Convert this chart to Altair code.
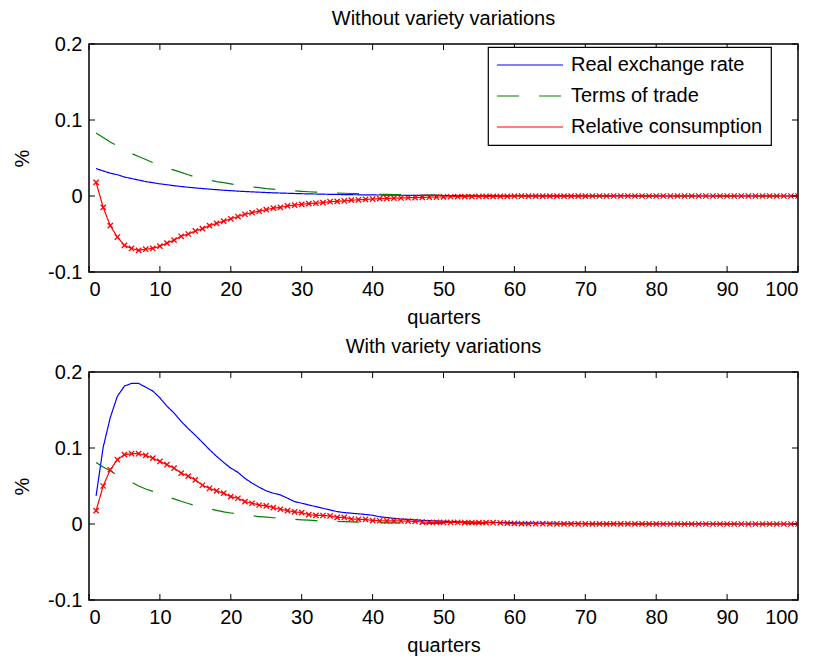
import altair as alt
import pandas as pd

FONT = "Liberation Sans"

quarters = list(range(1, 101))
series_names = ["Real exchange rate", "Terms of trade", "Relative consumption"]
series_colors = ["#0000FF", "#008000", "#FF0000"]
x_ticks = [0, 10, 20, 30, 40, 50, 60, 70, 80, 90, 100]
y_ticks = [-0.1, 0, 0.1, 0.2]

# ---- Panel 1: Without variety variations ----
rer1 = [0.036, 0.033, 0.030, 0.028, 0.025, 0.023, 0.021, 0.019, 0.0175, 0.016,
        0.0148, 0.0136, 0.0125, 0.0115, 0.0106, 0.0098, 0.009, 0.0083, 0.0076, 0.007,
        0.0064, 0.0059, 0.0054, 0.005, 0.0046, 0.0042, 0.0039, 0.0036, 0.0033, 0.003,
        0.0028, 0.0026, 0.0024, 0.0022, 0.002, 0.0019, 0.0017, 0.0016, 0.0015, 0.0014,
        0.0013, 0.0012, 0.0011, 0.001, 0.0009, 0.0009, 0.0008, 0.0007, 0.0007, 0.0006,
        0.0006, 0.0005, 0.0005, 0.0005, 0.0004, 0.0004, 0.0004, 0.0003, 0.0003, 0.0003,
        0.0003, 0.0002, 0.0002, 0.0002, 0.0002, 0.0002, 0.0001, 0.0001, 0.0001, 0.0001,
        0.0001, 0.0001, 0.0001, 0.0001, 0.0001, 0.0001, 0.0001, 0.0001, 0.0001, 0.0001,
        0, 0, 0, 0, 0, 0, 0, 0, 0, 0,
        0, 0, 0, 0, 0, 0, 0, 0, 0, 0]
tot1 = [0.083, 0.077, 0.071, 0.066, 0.061, 0.056, 0.052, 0.048, 0.044, 0.041,
        0.037, 0.034, 0.031, 0.028, 0.025, 0.023, 0.021, 0.019, 0.0175, 0.016,
        0.0145, 0.013, 0.012, 0.011, 0.0098, 0.009, 0.0082, 0.0075, 0.0068, 0.0062,
        0.0056, 0.0051, 0.0047, 0.0043, 0.0039, 0.0036, 0.0033, 0.003, 0.0027, 0.0025,
        0.0023, 0.0021, 0.0019, 0.0017, 0.0016, 0.0014, 0.0013, 0.0012, 0.0011, 0.001,
        0.0009, 0.0008, 0.0008, 0.0007, 0.0006, 0.0006, 0.0005, 0.0005, 0.0004, 0.0004,
        0.0004, 0.0003, 0.0003, 0.0003, 0.0003, 0.0002, 0.0002, 0.0002, 0.0002, 0.0002,
        0.0001, 0.0001, 0.0001, 0.0001, 0.0001, 0.0001, 0.0001, 0.0001, 0.0001, 0.0001,
        0, 0, 0, 0, 0, 0, 0, 0, 0, 0,
        0, 0, 0, 0, 0, 0, 0, 0, 0, 0]
rc1 = [0.018, -0.015, -0.039, -0.054, -0.065, -0.069, -0.0715, -0.070, -0.069, -0.066,
       -0.062, -0.058, -0.053, -0.050, -0.046, -0.043, -0.039, -0.036, -0.033, -0.030,
       -0.027, -0.024, -0.022, -0.020, -0.018, -0.016, -0.015, -0.013, -0.012, -0.011,
       -0.010, -0.0095, -0.0087, -0.0075, -0.007, -0.0065, -0.0055, -0.005, -0.0045, -0.004,
       -0.0035, -0.0032, -0.0029, -0.0026, -0.0023, -0.002, -0.0018, -0.0016, -0.0014, -0.0012,
       -0.001, -0.0009, -0.0008, -0.0007, -0.0006, -0.0005, -0.0005, -0.0004, -0.0004, -0.0003,
       -0.0003, -0.0003, -0.0002, -0.0002, -0.0002, -0.0002, -0.0001, -0.0001, -0.0001, -0.0001,
       0, 0, 0, 0, 0, 0, 0, 0, 0, 0,
       0, 0, 0, 0, 0, 0, 0, 0, 0, 0,
       0, 0, 0, 0, 0, 0, 0, 0, 0, 0]

# ---- Panel 2: With variety variations ----
rer2 = [0.037, 0.101, 0.140, 0.168, 0.1815, 0.185, 0.185, 0.180, 0.175, 0.166,
        0.155, 0.146, 0.135, 0.1255, 0.1167, 0.1074, 0.0978, 0.089, 0.081, 0.0735,
        0.068, 0.060, 0.0537, 0.0484, 0.0436, 0.0405, 0.0383, 0.0339, 0.0295, 0.0273,
        0.025, 0.0229, 0.0207, 0.0185, 0.0163, 0.015, 0.0142, 0.0134, 0.0125, 0.0115,
        0.0095, 0.0085, 0.0075, 0.0065, 0.006, 0.0054, 0.0048, 0.0044, 0.004, 0.0036,
        0.0033, 0.003, 0.0028, 0.0026, 0.0024, 0.0022, 0.002, 0.0019, 0.0018, 0.0017,
        0.0015, 0.0014, 0.0013, 0.0012, 0.0011, 0.001, 0.0009, 0.0008, 0.0007, 0.0006,
        0.0005, 0.0005, 0.0004, 0.0004, 0.0003, 0.0003, 0.0003, 0.0002, 0.0002, 0.0002,
        0.0002, 0.0001, 0.0001, 0.0001, 0.0001, 0.0001, 0.0001, 0.0001, 0.0001, 0.0001,
        0, 0, 0, 0, 0, 0, 0, 0, 0, 0]
tot2 = [0.081, 0.075, 0.070, 0.064, 0.059, 0.055, 0.050, 0.046, 0.043, 0.039,
        0.036, 0.033, 0.030, 0.027, 0.024, 0.022, 0.020, 0.018, 0.016, 0.0145,
        0.013, 0.012, 0.0108, 0.0098, 0.009, 0.0082, 0.0075, 0.0068, 0.0061, 0.0055,
        0.005, 0.0045, 0.0041, 0.0037, 0.0033, 0.003, 0.0027, 0.0024, 0.0022, 0.002,
        0.0018, 0.0016, 0.0015, 0.0013, 0.0012, 0.0011, 0.001, 0.0009, 0.0008, 0.0007,
        0.0007, 0.0006, 0.0005, 0.0005, 0.0004, 0.0004, 0.0004, 0.0003, 0.0003, 0.0003,
        0.0002, 0.0002, 0.0002, 0.0002, 0.0002, 0.0001, 0.0001, 0.0001, 0.0001, 0.0001,
        0, 0, 0, 0, 0, 0, 0, 0, 0, 0,
        0, 0, 0, 0, 0, 0, 0, 0, 0, 0,
        0, 0, 0, 0, 0, 0, 0, 0, 0, 0]
rc2 = [0.0176, 0.050, 0.0714, 0.0846, 0.0912, 0.0925, 0.0925, 0.0903, 0.0867, 0.0823,
       0.078, 0.0735, 0.067, 0.063, 0.058, 0.051, 0.047, 0.0436, 0.0405, 0.036,
       0.0339, 0.0295, 0.0273, 0.025, 0.0238, 0.0216, 0.0194, 0.0176, 0.0159, 0.015,
       0.0123, 0.0114, 0.0112, 0.0106, 0.0088, 0.0086, 0.0066, 0.0062, 0.0062, 0.0044,
       0.0043, 0.0042, 0.0041, 0.004, 0.0038, 0.0034, 0.0026, 0.0022, 0.0021, 0.002,
       0.002, 0.002, 0.0019, 0.0019, 0.0018, 0.0018, 0.0017, 0.0016, 0.0012, 0.0008,
       0.0006, 0.0005, 0.0004, 0.0004, 0.0003, 0.0003, 0.0002, 0.0002, 0.0002, 0.0001,
       0.0001, 0.0001, 0.0001, 0.0001, 0.0001, 0.0001, 0.0001, 0.0001, 0.0001, 0.0001,
       0, 0, 0, 0, 0, 0, 0, 0, 0, 0,
       0, 0, 0, 0, 0, 0, 0, 0, 0, 0]

W, H = 709, 228
TICK = 6
XMARK = "M-1,-1L1,1M-1,1L1,-1"


def long_df(a, b, c):
    rows = []
    for name, vals in zip(series_names, [a, b, c]):
        for q, v in zip(quarters, vals):
            rows.append({"q": q, "v": v, "s": name})
    return pd.DataFrame(rows)


def panel(df, title, show_legend):
    xs = alt.Scale(domain=[0, 100], nice=False, zero=False)
    ys = alt.Scale(domain=[-0.1, 0.2], nice=False, zero=False)
    x = alt.X("q:Q", scale=xs, axis=alt.Axis(values=x_ticks, title="quarters", format="d"))
    y = alt.Y("v:Q", scale=ys, axis=alt.Axis(values=y_ticks, title="%",
                                              labelExpr="'' + datum.value"))
    if show_legend:
        leg = alt.Legend(orient="none", legendX=399, legendY=3, title=None,
                         symbolType="stroke", symbolSize=4356, symbolStrokeWidth=1.2,
                         clipHeight=20, rowPadding=11, labelOffset=7, labelLimit=400)
    else:
        leg = None
    color = alt.Color("s:N", scale=alt.Scale(domain=series_names, range=series_colors), legend=leg)
    dash = alt.StrokeDash("s:N", scale=alt.Scale(domain=series_names,
                                                  range=[[1, 0], [22, 20], [1, 0]]), legend=leg)
    lines = alt.Chart(df).mark_line(strokeWidth=1.2, clip=True).encode(
        x=x, y=y, color=color, strokeDash=dash, order="q:Q")
    pts = alt.Chart(df).transform_filter(
        alt.datum.s == "Relative consumption"
    ).mark_point(shape=XMARK, size=28, filled=False, strokeWidth=1.3,
                 color="#FF0000", opacity=1, clip=True).encode(x="q:Q", y="v:Q")

    xt = pd.DataFrame({"q": x_ticks})
    yt = pd.DataFrame({"v": y_ticks})
    xt_bot = alt.Chart(xt).mark_rule(color="black", strokeWidth=1).encode(
        x="q:Q", y=alt.value(H), y2=alt.value(H - TICK))
    xt_top = alt.Chart(xt).mark_rule(color="black", strokeWidth=1).encode(
        x="q:Q", y=alt.value(0), y2=alt.value(TICK))
    yt_left = alt.Chart(yt).mark_rule(color="black", strokeWidth=1).encode(
        y="v:Q", x=alt.value(0), x2=alt.value(TICK))
    yt_right = alt.Chart(yt).mark_rule(color="black", strokeWidth=1).encode(
        y="v:Q", x=alt.value(W), x2=alt.value(W - TICK))

    return alt.layer(lines, pts, xt_bot, xt_top, yt_left, yt_right).properties(
        width=W, height=H,
        title=alt.Title(title, fontSize=20, font=FONT, fontWeight="normal",
                        color="black", offset=5)
    )


top = panel(long_df(rer1, tot1, rc1), "Without variety variations", True)
bottom = panel(long_df(rer2, tot2, rc2), "With variety variations", False)

chart = alt.vconcat(top, bottom, spacing=8).resolve_scale(
    color="independent", strokeDash="independent"
).resolve_legend(
    color="independent", strokeDash="independent"
).properties(
    padding={"left": 3, "top": 0, "right": 0, "bottom": 0},
    background="white",
).configure_view(
    stroke="black", strokeWidth=1.5
).configure_axis(
    grid=False, ticks=False, tickSize=0, domain=False,
    labelFont=FONT, labelFontSize=20, labelColor="black",
    titleFont=FONT, titleFontSize=20, titleFontWeight="normal", titleColor="black",
).configure_axisX(
    labelPadding=7, titlePadding=8
).configure_axisY(
    labelPadding=7, titlePadding=15
).configure_legend(
    fillColor="white", strokeColor="black", strokeWidth=1.2, padding=8,
    labelFont=FONT, labelFontSize=20, labelColor="black"
)

chart.save("out.html", embed_options={"renderer": "svg", "actions": False})
